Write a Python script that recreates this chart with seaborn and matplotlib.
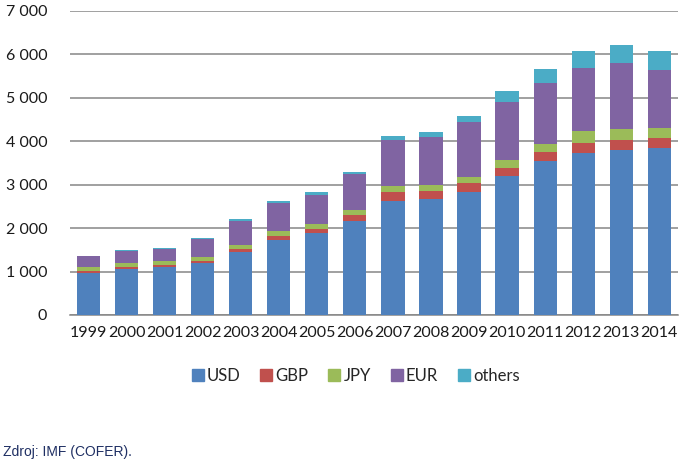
import matplotlib
matplotlib.use("Agg")
import matplotlib.pyplot as plt
from matplotlib.lines import Line2D
import seaborn as sns
import pandas as pd
import numpy as np

years = ["1999", "2000", "2001", "2002", "2003", "2004", "2005", "2006",
         "2007", "2008", "2009", "2010", "2011", "2012", "2013", "2014"]
usd = [975, 1070, 1110, 1190, 1460, 1730, 1885, 2160, 2625, 2680, 2840, 3190, 3540, 3740, 3795, 3835]
gbp = [45, 45, 45, 50, 60, 90, 100, 140, 200, 175, 190, 185, 210, 230, 245, 230]
jpy = [90, 90, 80, 85, 90, 125, 115, 115, 140, 147, 140, 205, 185, 260, 245, 240]
eur = [245, 275, 295, 430, 560, 645, 670, 825, 1060, 1100, 1265, 1330, 1400, 1460, 1525, 1340]
others = [15, 20, 20, 25, 35, 45, 55, 60, 95, 108, 150, 250, 320, 395, 415, 445]

series = ["USD", "GBP", "JPY", "EUR", "others"]
values = [usd, gbp, jpy, eur, others]
colors = ["#4f81bd", "#c0504d", "#9bbb59", "#8064a2", "#4bacc6"]

sns.set_theme(style="white")
plt.rcParams["font.family"] = ["Lato", "DejaVu Sans"]

fig = plt.figure(figsize=(6.88, 4.68), dpi=100)
ax = fig.add_axes([69.5 / 688, 1 - 315 / 468, (678.3 - 69.5) / 688, (315 - 11) / 468])

cum = np.cumsum(np.array(values), axis=0)
# draw from the top of the stack down so lower segments overlay
for i in range(len(series) - 1, -1, -1):
    df = pd.DataFrame({"year": years, "value": cum[i]})
    sns.barplot(data=df, x="year", y="value", color=colors[i], width=0.61,
                saturation=1, ax=ax, zorder=3, linewidth=0)

ax.set_xlim(-0.5, 15.5)
ax.set_ylim(0, 7000)
yt = np.arange(0, 7001, 1000)
ax.set_yticks(yt)
ax.set_yticklabels([f"{v:,}".replace(",", "\u00a0") for v in yt], fontsize=11.5, color="#1a1a1a")
ax.yaxis.grid(True, color="#868686", linewidth=1.1, zorder=0)
ax.set_axisbelow(True)
ax.tick_params(axis="y", length=0, pad=16)
ax.tick_params(axis="x", which="major", length=0, pad=8, labelsize=11.5, labelcolor="#1a1a1a")
ax.set_xticks(np.arange(-0.5, 16, 1), minor=True)
ax.tick_params(axis="x", which="minor", length=5, width=1.1, color="#868686", direction="out")
ax.set_xlabel("")
ax.set_ylabel("")
for s in ["top", "right", "left"]:
    ax.spines[s].set_visible(False)
ax.spines["bottom"].set_color("#868686")
ax.spines["bottom"].set_linewidth(1.1)

handles = [Line2D([0], [0], marker="s", linestyle="none", markersize=8.5,
                  markerfacecolor=c, markeredgecolor=c) for c in colors]
fig.legend(handles, series, loc="center", bbox_to_anchor=(355 / 688, 1 - 376 / 468),
           ncol=5, frameon=False, fontsize=12, handletextpad=0.1, columnspacing=1.1,
           handlelength=0.9)

fig.text(3 / 688, 1 - 452 / 468, "Zdroj: IMF (COFER).", fontsize=10,
         family=["Liberation Sans", "DejaVu Sans"], color="#1f2f63", va="center", ha="left")

fig.savefig("out.png", dpi=100)
